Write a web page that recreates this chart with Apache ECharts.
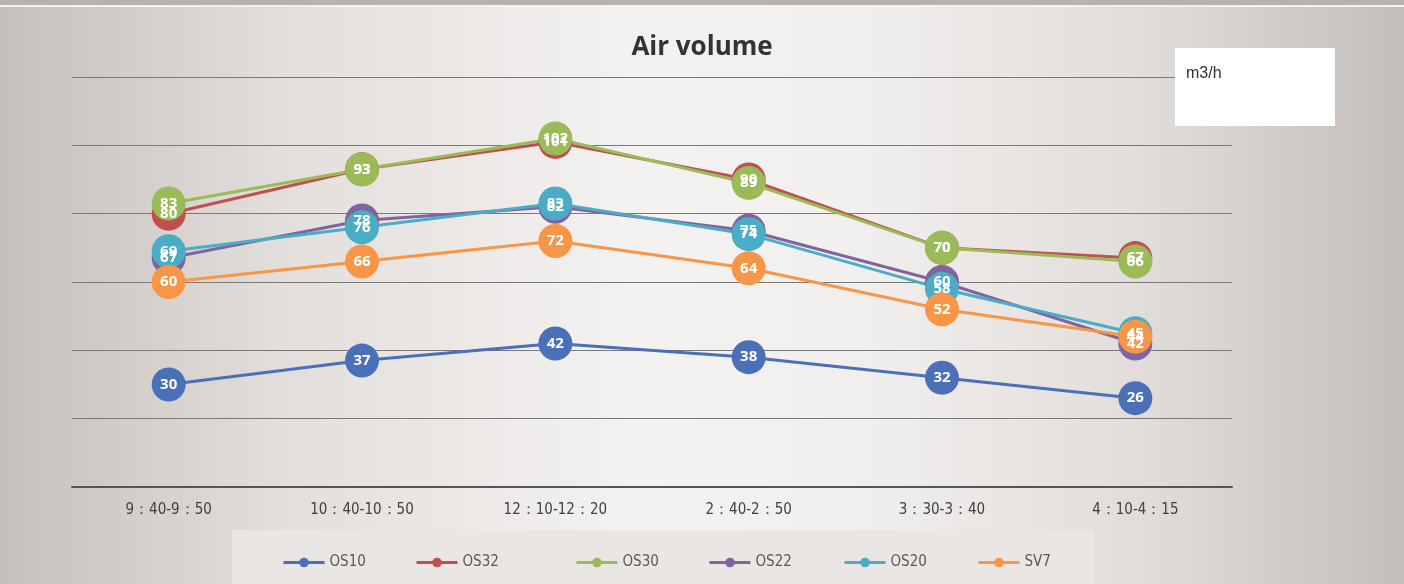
<!DOCTYPE html>
<html><head><meta charset="utf-8">
<script src="https://cdn.jsdelivr.net/npm/echarts@6/dist/echarts.min.js"></script>
<style>html,body{margin:0;padding:0;}#c{width:1404px;height:584px;}</style>
</head><body><div id="c"></div>
<script>
const categories = ["9：40-9：50", "10：40-10：50", "12：10-12：20", "2：40-2：50", "3：30-3：40", "4：10-4：15"];
const seriesNames = ["OS10", "OS32", "OS30", "OS22", "OS20", "SV7"];
const os10 = [30, 37, 42, 38, 32, 26];
const os32 = [80, 93, 101, 90, 70, 67];
const os30 = [83, 93, 102, 89, 70, 66];
const os22 = [67, 78, 82, 75, 60, 42];
const os20 = [69, 76, 83, 74, 58, 45];
const sv7 = [60, 66, 72, 64, 52, 44];
const colors = ["#4a70b8", "#c0504d", "#9bbb59", "#8064a2", "#4bacc6", "#f79646"];
const allData = [os10, os32, os30, os22, os20, sv7];
const legendLeft = [282, 415, 575, 708, 843, 977];

const chart = echarts.init(document.getElementById('c'));
const fontNarrow = "'Liberation Sans Narrow', 'DejaVu Sans Condensed', 'Liberation Sans', sans-serif";

const series = seriesNames.map((n, i) => ({
  name: n,
  type: 'line',
  data: allData[i],
  color: colors[i],
  symbol: 'circle',
  symbolSize: 34,
  lineStyle: { width: 3, color: colors[i] },
  itemStyle: { color: colors[i] },
  label: {
    show: true, position: 'inside', color: '#ffffff',
    fontSize: 15, fontWeight: 'bold', fontFamily: "'Open Sans', sans-serif"
  },
  emphasis: { disabled: true },
  animation: false
}));

const legends = seriesNames.map((n, i) => ({
  data: [n],
  left: legendLeft[i],
  top: 555,
  itemWidth: 41,
  itemHeight: 12,
  itemGap: 4,
  padding: 0,
  lineStyle: { width: 3 },
  textStyle: { fontSize: 15, color: '#595959', fontFamily: fontNarrow },
  selectedMode: false
}));

chart.setOption({
  animation: false,
  backgroundColor: {
    type: 'linear', x: 0, y: 0, x2: 1, y2: 0,
    colorStops: [
      { offset: 0, color: '#c5c0bc' },
      { offset: 0.2, color: '#e2dedb' },
      { offset: 0.45, color: '#f4f2f1' },
      { offset: 0.6, color: '#f2f0ef' },
      { offset: 0.82, color: '#e0dcd9' },
      { offset: 1, color: '#c3beba' }
    ]
  },
  graphic: [
    { type: 'rect', shape: { x: 0, y: 0, width: 1404, height: 5 }, style: { fill: '#b7b2ae' }, z: -10 },
    { type: 'rect', shape: { x: 0, y: 5, width: 1404, height: 2 }, style: { fill: '#f4f2f1' }, z: -10 },
    { type: 'rect', shape: { x: 232, y: 530, width: 862, height: 54 }, style: { fill: '#e9e6e4' }, z: -5 },
    { type: 'rect', shape: { x: 1175, y: 48, width: 160, height: 78 }, style: { fill: '#ffffff' }, z: 10 },
    { type: 'text', x: 1186, y: 66, style: { text: 'm3/h', fontSize: 16, fill: '#333333', fontFamily: "'Liberation Sans', Arial, sans-serif" }, z: 11 }
  ],
  title: {
    text: 'Air volume', left: 'center', top: 30,
    textStyle: { fontSize: 26, fontWeight: 'bold', color: '#333333', fontFamily: "'Open Sans', 'Liberation Sans', sans-serif" }
  },
  legend: legends,
  grid: { left: 72, right: 172, top: 77, bottom: 97, containLabel: false },
  xAxis: {
    type: 'category', data: categories, boundaryGap: true,
    axisLine: { lineStyle: { color: '#555555', width: 2 } },
    axisTick: { show: false },
    axisLabel: { fontSize: 15, color: '#404040', margin: 16, fontFamily: fontNarrow }
  },
  yAxis: {
    type: 'value', min: 0, max: 120, interval: 20,
    axisLabel: { show: false }, axisLine: { show: false }, axisTick: { show: false },
    splitLine: { lineStyle: { color: '#7a7a7a', width: 1 } }
  },
  series: series
});
</script></body></html>
